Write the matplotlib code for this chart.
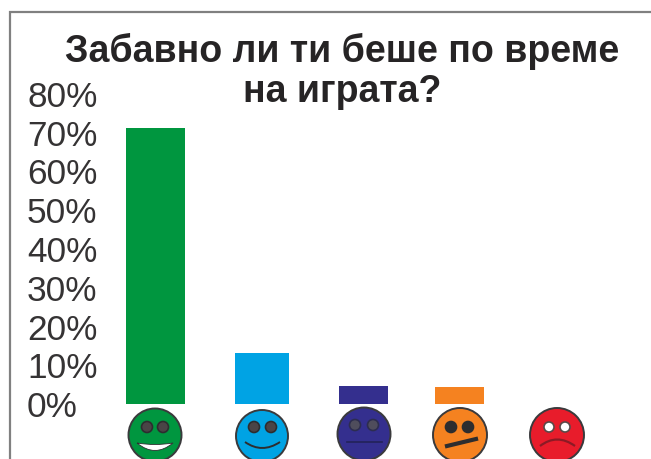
import matplotlib.pyplot as plt
from matplotlib.patches import Circle, PathPatch
from matplotlib.path import Path

W, H = 651, 459

title_lines = ['Забавно ли ти беше по време', 'на играта?']
percent = [71.2, 13.2, 4.6, 4.4, 0]
ticks = [0, 10, 20, 30, 40, 50, 60, 70, 80]

# bar geometry in pixels across the figure
bar_left = [126, 235, 339, 435, 530]
bar_width = [59, 54, 49, 49, 49]
bar_colors = ['#00963f', '#00a3e4', '#342f8e', '#f58220', '#e81c2b']

# face centres in pixels
face_x = [155, 262, 364, 460, 557]
face_y = [435, 436, 434, 435, 435]
face_r = [26.5, 26, 26.5, 27, 27]

TEXT = '#262425'
DARK = '#2d2d2f'

plt.rcParams['font.family'] = ['Liberation Sans', 'DejaVu Sans']

fig = plt.figure(figsize=(W / 100, H / 100), dpi=100)

# chart axes: x runs in pixels, y in percent
ax = fig.add_axes([100 / W, (H - 404) / H, (W - 100) / W, 310 / H])
ax.set_xlim(100, W)
ax.set_ylim(0, 80)
ax.bar(bar_left, percent, width=bar_width, align='edge', color=bar_colors)
ax.set_xticks([])
ax.set_yticks(ticks, [f'{t}%' for t in ticks])
# labels start at the same left edge instead of lining up on the right
ax.tick_params(axis='y', length=0, pad=52.5, labelsize=25.4, labelcolor='#353334')
for lab in ax.get_yticklabels():
    lab.set_ha('left')
for s in ax.spines.values():
    s.set_visible(False)
ax.patch.set_alpha(0)

# overlay in pixel coordinates for the frame and the faces
ov = fig.add_axes([0, 0, 1, 1])
ov.set_xlim(0, W)
ov.set_ylim(H, 0)
ov.axis('off')
ov.patch.set_alpha(0)

ov.plot([10, 10, W], [H, 12, 12], color='#808080', lw=1.6, solid_joinstyle='miter')

ov.text(342.5, 62, title_lines[0], ha='center', va='baseline', fontsize=27,
        fontweight='bold', color=TEXT)
ov.text(342.5, 102, title_lines[1], ha='center', va='baseline', fontsize=27,
        fontweight='bold', color=TEXT)


def eyes(x, y, dx1, dx2, r, fill, edge):
    for dx in (dx1, dx2):
        ov.add_patch(Circle((x + dx, y), r, fc=fill, ec=edge, lw=1.2, zorder=4))


def curve(p0, p1, p2, **kw):
    path = Path([p0, p1, p2], [Path.MOVETO, Path.CURVE3, Path.CURVE3])
    ov.add_patch(PathPatch(path, fc='none', zorder=4, **kw))


for x, y, r, c in zip(face_x, face_y, face_r, bar_colors):
    ov.add_patch(Circle((x, y), r, fc=c, ec='#3a3a3c', lw=1.4, zorder=3))

# very happy: white open smile
x, y = face_x[0], face_y[0]
eyes(x, y - 8, -8, 8, 5.5, '#4a4446', '#2d2d2f')
smile = Path([(x - 18, y + 8), (x, y + 11), (x + 18, y + 8), (x, y + 23), (x - 18, y + 8)],
             [Path.MOVETO, Path.CURVE3, Path.CURVE3, Path.CURVE3, Path.CURVE3])
ov.add_patch(PathPatch(smile, fc='white', ec=DARK, lw=0.6, zorder=4))

# happy
x, y = face_x[1], face_y[1]
eyes(x, y - 9, -8, 9, 5.5, '#4a4446', '#2d2d2f')
curve((x - 17, y + 6), (x, y + 18), (x + 18, y + 6), ec=DARK, lw=1.4)

# neutral
x, y = face_x[2], face_y[2]
eyes(x, y - 9, -9, 9, 5.5, '#4f4d5c', '#2d2d4f')
ov.plot([x - 17, x + 18], [y + 8, y + 8], color='#22225a', lw=1.2, zorder=4)

# unsure: skewed straight mouth
x, y = face_x[3], face_y[3]
eyes(x, y - 8, -9, 8, 5.5, DARK, DARK)
ov.plot([x - 13, x + 16], [y + 11, y + 4], color=DARK, lw=3, zorder=4)

# sad: white eyes
x, y = face_x[4], face_y[4]
eyes(x, y - 8, -8, 8, 5, 'white', '#5a4a4a')
curve((x - 17, y + 11), (x, y - 2), (x + 18, y + 11), ec='#8c1a25', lw=1.6)

fig.savefig('out.png', dpi=100)
